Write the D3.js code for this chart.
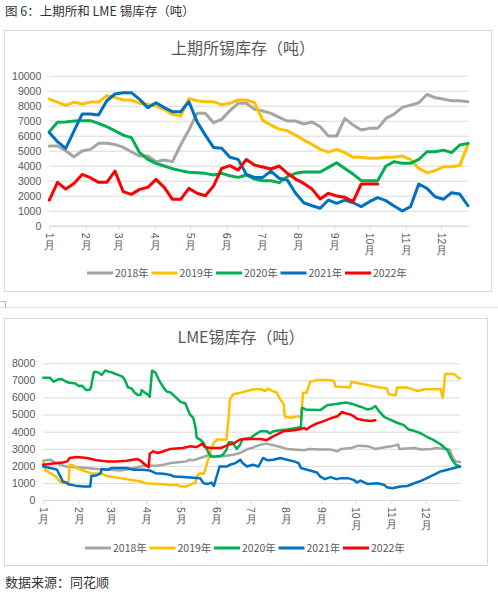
<!DOCTYPE html>
<html lang="zh">
<head>
<meta charset="UTF-8">
<title>上期所和LME锡库存</title>
<style>
    body { margin: 0; background: #fff; }
    svg { display: block; font-family: "Noto Sans CJK SC", "Noto Sans", sans-serif; }
    .grid line { stroke: #d9d9d9; }
    .grid .domain { display: none; }
    .ylab text { fill: #595959; font-size: 10.5px; }
    .xaxis .domain, .xaxis line { stroke: #d9d9d9; }
    .xaxis text { fill: #595959; font-size: 10.5px; }
    .series { fill: none; stroke-linejoin: round; stroke-linecap: round; }
</style>
</head>
<body>
<svg id="chart" width="498" height="594"></svg>

<script src="https://cdn.jsdelivr.net/npm/d3@7/dist/d3.min.js"></script>
<script>
    const years = ["2018年", "2019年", "2020年", "2021年", "2022年"]
    const colors = ["#a5a5a5", "#ffc000", "#00b050", "#0070c0", "#ff0000"]
    const monthNums = ["1","2","3","4","5","6","7","8","9","10","11","12"]

    // SHFE weekly inventory (tonnes), one value per week from early January
    const shfe2018 = [5310,5310,5000,4600,4980,5090,5490,5490,5420,5220,4930,4640,4640,4270,4380,4270,5380,6380,7490,7490,6870,7090,7670,8160,8160,7760,7650,7490,7220,6980,6980,6780,6910,6600,5980,5980,7150,6710,6380,6490,6490,7150,7440,7890,8040,8200,8750,8530,8440,8330,8330,8270]
    const shfe2019 = [8440,8240,8020,8240,8110,8240,8240,8670,8560,8380,8380,8160,8090,7980,7760,7420,7310,8470,8330,8270,8270,8070,8160,8380,8380,8200,7020,6710,6440,6330,6040,5710,5420,5090,4910,5090,4870,4560,4560,4490,4490,4560,4560,4640,4420,3820,3530,3670,3930,3930,4020,5440]
    const shfe2020 = [6270,6890,6910,6980,7000,7000,6820,6600,6330,6040,5870,4870,4420,4160,3980,3800,3670,3560,3530,3490,3380,3490,3330,3220,3380,3110,3000,3000,2870,3270,3490,3580,3580,3580,3890,4200,3820,3440,3000,3000,3000,3980,4270,4160,4160,4420,4930,4930,5040,4870,5380,5490]
    const shfe2021 = [6220,5600,5160,6310,7440,7440,7380,8330,8780,8870,8870,8420,7870,8200,7870,7600,7600,8270,6930,6040,5220,5160,4560,4420,3420,3220,3220,3640,3160,3040,2160,1530,1330,1160,1710,1490,1710,1530,1270,1600,1870,1670,1310,980,1270,2780,2490,1930,1760,2200,2110,1330]
    const shfe2022 = [1710,2890,2440,2820,3420,3200,2890,2890,3640,2270,2090,2420,2560,3090,2560,1760,1760,2490,2160,2000,2640,3820,4000,3710,4420,4040,3910,3780,3980,3490,3110,2820,2440,1780,2160,1980,1890,1600,2780,2780,2780]

    // LME daily inventory (tonnes), [day of year, value]
    const lme2018 = [[0,2300],[6,2360],[10,2200],[15,2060],[20,1960],[29,1920],[38,1870],[47,1810],[58,1770],[67,1730],[76,1810],[82,1920],[89,2000],[99,2000],[105,2060],[111,2160],[120,2220],[125,2260],[128,2360],[131,2320],[137,2460],[143,2590],[146,2710],[148,2510],[157,2560],[166,2650],[172,2750],[178,2960],[184,3090],[190,3240],[195,3300],[201,3200],[207,3100],[213,2990],[219,2950],[227,2910],[233,2990],[242,2950],[251,2950],[257,2850],[260,2990],[269,3040],[275,3180],[284,3140],[290,2990],[299,3100],[304,3140],[310,3240],[311,2990],[324,3040],[330,2950],[339,2990],[343,3040],[350,2990],[355,2950],[357,2590],[360,2260],[364,2220]]
    const lme2019 = [[0,2200],[2,1730],[6,1570],[11,1370],[15,1040],[17,980],[22,980],[23,2060],[27,2000],[29,1870],[41,1570],[51,1530],[55,1410],[61,1340],[67,1280],[76,1180],[85,1080],[90,980],[99,940],[105,920],[111,880],[117,880],[120,790],[125,790],[128,880],[131,980],[133,1020],[134,1410],[137,1570],[140,1530],[141,1670],[144,2360],[146,2850],[149,3340],[152,3540],[160,3540],[162,4910],[163,5890],[166,6190],[172,6280],[178,6380],[184,6480],[190,6480],[194,6380],[196,6520],[200,6380],[204,6280],[207,5890],[210,5600],[211,4870],[217,4810],[222,4910],[225,4810],[227,6280],[230,6280],[233,6910],[239,7030],[248,7030],[254,6970],[255,6640],[268,6580],[269,6910],[280,6780],[289,6640],[300,6520],[302,6190],[308,6130],[309,6580],[318,6580],[327,6380],[333,6480],[347,6480],[349,5990],[351,7370],[359,7370],[362,7170],[364,7110]]
    const lme2020 = [[0,7150],[6,7150],[9,6920],[13,7060],[16,7080],[20,6920],[23,6860],[28,6820],[31,6670],[34,6690],[36,6530],[38,6430],[41,6470],[42,6730],[44,7450],[45,7510],[48,7470],[51,7310],[54,7580],[57,7510],[60,7470],[63,7370],[66,7310],[69,7220],[71,7060],[74,6590],[77,6530],[80,6270],[83,6140],[85,6160],[86,6430],[89,6270],[92,6140],[93,6040],[95,7570],[98,7450],[101,7020],[105,6590],[108,6330],[111,6300],[117,5930],[120,5730],[124,5660],[128,5010],[131,4810],[133,4220],[134,3630],[137,3540],[140,3340],[143,2950],[146,2550],[150,2550],[155,2590],[157,2650],[160,2950],[162,3380],[165,3380],[169,2990],[172,3240],[174,3570],[181,3630],[185,3830],[190,4030],[195,4030],[198,3890],[201,4030],[207,4080],[213,4120],[220,4200],[225,4280],[226,5400],[230,5280],[242,5260],[248,5550],[254,5600],[260,5660],[265,5700],[271,5600],[277,5460],[283,5300],[287,5360],[290,5500],[293,5220],[298,4850],[303,4700],[309,4520],[315,4380],[319,4130],[324,4050],[330,3890],[335,3700],[341,3500],[347,3260],[353,2910],[357,2360],[360,2090],[364,1950]]
    const lme2021 = [[0,1960],[6,1870],[10,1810],[12,1770],[15,1370],[17,1080],[20,1020],[22,920],[28,840],[35,790],[41,790],[42,1410],[47,1450],[50,1570],[51,1810],[56,1770],[60,1870],[73,1870],[79,1770],[87,1770],[93,1730],[98,1570],[105,1530],[111,1470],[114,1370],[122,1340],[131,1300],[137,1280],[140,980],[144,940],[147,1020],[149,820],[151,1280],[154,1960],[160,1960],[163,2060],[168,2160],[172,2360],[174,2160],[178,1960],[183,2060],[188,1960],[192,2460],[196,2320],[201,2360],[207,2460],[213,2360],[219,2260],[223,2160],[225,1870],[228,1810],[233,1730],[239,1610],[242,1370],[246,1220],[251,1340],[256,1220],[260,1280],[266,1280],[271,1180],[274,1020],[277,1140],[283,940],[292,980],[298,880],[300,750],[305,690],[312,790],[318,820],[324,980],[330,1120],[335,1280],[341,1470],[347,1670],[353,1770],[359,1870],[364,1960]]
    const lme2022 = [[0,2060],[7,2120],[12,2160],[17,2200],[21,2260],[23,2460],[29,2510],[38,2460],[42,2400],[47,2320],[55,2260],[64,2260],[73,2300],[82,2400],[85,2300],[89,2060],[92,1920],[93,2710],[96,2850],[100,2750],[105,2850],[111,2990],[116,3020],[122,3040],[128,3140],[134,3100],[139,3300],[141,3100],[146,3040],[155,3040],[162,3240],[166,3300],[172,3540],[181,3570],[190,3570],[195,3500],[200,3690],[204,3830],[210,4030],[219,4080],[225,4160],[228,4220],[230,4120],[233,4280],[239,4480],[245,4620],[251,4780],[257,4900],[261,5150],[264,5080],[268,5010],[271,4910],[274,4750],[280,4670],[286,4620],[290,4670]]

    const shfe = [shfe2018, shfe2019, shfe2020, shfe2021, shfe2022]
    const lme = [lme2018, lme2019, lme2020, lme2021, lme2022]

    const svg = d3.select("#chart")
    const jan1 = new Date(2021, 0, 1)

    // page header / footer
    svg.append("text").attr("x", 5).attr("y", 16)
        .style("font-size", "12.5px").style("fill", "#333")
        .text("图 6：上期所和 LME 锡库存（吨）")
    svg.append("text").attr("x", 5).attr("y", 587)
        .style("font-size", "13px").style("fill", "#333")
        .text("数据来源：同花顺")

    // separator between the two charts
    svg.append("line").attr("x1", 0).attr("x2", 498).attr("y1", 307.5).attr("y2", 307.5)
        .attr("stroke", "#e3e3e3")
    svg.append("path").attr("d", "M0.5,301.5H5.5V308").attr("fill", "none").attr("stroke", "#bbb")

    function drawChart(opt) {
        let g = svg.append("g")

        g.append("rect")
            .attr("x", opt.box[0] + 0.5).attr("y", opt.box[1] + 0.5)
            .attr("width", opt.box[2]).attr("height", opt.box[3])
            .attr("fill", "#fff").attr("stroke", "#d9d9d9")

        g.append("text")
            .attr("x", opt.titleX).attr("y", opt.titleY)
            .attr("text-anchor", "middle")
            .style("font-size", "16px").style("fill", "#595959")
            .text(opt.title)

        let x = d3.scaleTime().domain(opt.xDomain).range([opt.left, opt.right])
        let y = d3.scaleLinear().domain([0, opt.yMax]).range([opt.bottom, opt.top])

        // gridlines + y labels
        g.append("g")
            .attr("class", "grid ylab")
            .attr("transform", `translate(${opt.left},0)`)
            .call(d3.axisLeft(y).ticks(opt.yMax / 1000).tickFormat(d3.format("d"))
                .tickSize(-(opt.right - opt.left)).tickPadding(8))

        // x axis with month ticks; labels stacked vertically, digits turned sideways
        let months = d3.timeMonth.range(jan1, new Date(2021, 11, 2))
        let xa = g.append("g")
            .attr("class", "xaxis")
            .attr("transform", `translate(0,${opt.bottom})`)
            .call(d3.axisBottom(x).tickValues(months).tickSize(4).tickSizeOuter(0).tickFormat(""))
            .call(s => s.select(".domain").attr("d", `M${opt.left},0.5H${opt.right}`))

        xa.selectAll(".tick").each(function (d, i) {
            let t = d3.select(this)
            t.select("text").remove()
            let num = t.append("text")
                .attr("transform", "translate(0,7) rotate(90)")
                .attr("dominant-baseline", "central")
                .attr("text-anchor", "start")
                .text(monthNums[i])
            let len = num.node().getComputedTextLength()
            t.append("text")
                .attr("text-anchor", "middle")
                .attr("y", 7 + len + 10)
                .text("月")
        })

        let line = d3.line().x(d => x(d[0])).y(d => y(d[1]))

        opt.series.forEach((s, i) => {
            g.append("path")
                .attr("class", "series")
                .attr("d", line(s))
                .attr("stroke", colors[i])
                .attr("stroke-width", opt.lineWidth)
        })

        // legend
        let itemW = 64.5
        let lg = g.append("g")
            .attr("transform", `translate(${opt.legendX},${opt.legendY})`)
        years.forEach((yr, i) => {
            lg.append("line")
                .attr("x1", i * itemW).attr("x2", i * itemW + 26)
                .attr("stroke", colors[i]).attr("stroke-width", 3)
            lg.append("text")
                .attr("x", i * itemW + 28).attr("dy", "0.35em")
                .style("font-size", "10.5px").style("fill", "#595959")
                .text(yr)
        })
    }

    drawChart({
        box: [4, 30, 487, 261],
        title: "上期所锡库存（吨）", titleX: 243, titleY: 54,
        left: 49.3, right: 468, top: 75.7, bottom: 225.7, yMax: 10000,
        xDomain: [jan1, new Date(2021, 11, 24)],
        series: shfe.map(arr => arr.map((v, i) => [d3.timeDay.offset(jan1, 7 * i), v])),
        lineWidth: 3,
        legendX: 87, legendY: 273
    })

    drawChart({
        box: [4, 318, 483, 247],
        title: "LME锡库存（吨）", titleX: 241, titleY: 343,
        left: 43.3, right: 460, top: 363.3, bottom: 500, yMax: 8000,
        xDomain: [jan1, new Date(2021, 11, 31)],
        series: lme.map(arr => arr.map(p => [d3.timeDay.offset(jan1, p[0]), p[1]])),
        lineWidth: 2.5,
        legendX: 85, legendY: 548
    })
</script>
</body>
</html>
